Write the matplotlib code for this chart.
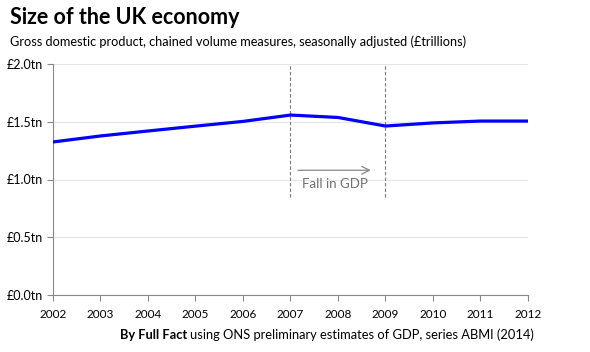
import matplotlib
matplotlib.use("Agg")
import matplotlib.pyplot as plt

years = [2002, 2003, 2004, 2005, 2006, 2007, 2008, 2009, 2010, 2011, 2012]
gdp = [1.325, 1.377, 1.420, 1.462, 1.503, 1.558, 1.537, 1.463, 1.490, 1.506, 1.506]
y_ticks = [0.0, 0.5, 1.0, 1.5, 2.0]
y_labels = ["£0.0tn", "£0.5tn", "£1.0tn", "£1.5tn", "£2.0tn"]
recession = [2007, 2009]

plt.rcParams['font.family'] = ['Lato', 'DejaVu Sans']

fig = plt.figure(figsize=(5.9, 3.52), dpi=100)
ax = fig.add_axes([53 / 590, 1 - 295 / 352, 475 / 590, 231 / 352])

ax.plot(years, gdp, color="#0000ff", lw=2.3, solid_joinstyle="round", zorder=3)

for yr in recession:
    ax.plot([yr, yr], [0.85, 2.0], color="#777777", lw=0.8, ls=(0, (3, 2)), zorder=2)

ax.annotate("", xy=(2008.75, 1.08), xytext=(2007.1, 1.08),
            arrowprops=dict(arrowstyle="->", color="#888888", lw=0.9,
                            mutation_scale=14))
ax.text(2007.93, 0.965, "Fall in GDP", color="#707070", fontsize=9.5,
        ha="center", va="center")

ax.set_xlim(2002, 2012)
ax.set_ylim(0, 2.0)
ax.set_xticks(years)
ax.set_xticklabels([str(y) for y in years], fontsize=8.5)
ax.set_yticks(y_ticks)
ax.set_yticklabels(y_labels, fontsize=9)
ax.yaxis.grid(True, color="#e6e6e6", lw=0.9)
ax.set_axisbelow(True)

for s in ["top", "right"]:
    ax.spines[s].set_visible(False)
for s in ["left", "bottom"]:
    ax.spines[s].set_color("#888888")
ax.tick_params(axis="both", colors="#888888", labelcolor="black", length=4, width=0.8)
ax.tick_params(axis="x", pad=6)

fig.text(10 / 590, 1 - 18 / 352, "Size of the UK economy", fontsize=15.5,
         fontweight="bold", va="center")
fig.text(10 / 590, 1 - 42 / 352,
         "Gross domestic product, chained volume measures, seasonally adjusted (£trillions)",
         fontsize=9.2, va="center")
fig.text(187 / 590, 1 - 335 / 352, "By Full Fact", fontsize=9.3,
         fontweight="bold", ha="right", va="center")
fig.text(190 / 590, 1 - 335 / 352,
         "using ONS preliminary estimates of GDP, series ABMI (2014)",
         fontsize=9.3, ha="left", va="center")

fig.savefig("out.png", dpi=100)
